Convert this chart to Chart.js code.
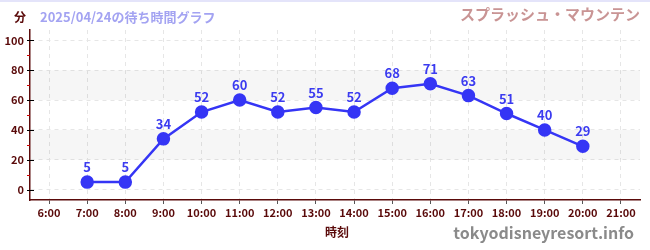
<!DOCTYPE html>
<html><head><meta charset="utf-8">
<script src="https://cdn.jsdelivr.net/npm/chart.js@4"></script>
<style>html,body{margin:0;padding:0;background:#fff}#wrap{width:650px;height:250px}</style>
</head><body><div id="wrap"><canvas id="c" width="650" height="250"></canvas></div>
<script>
const categories = ["6:00","7:00","8:00","9:00","10:00","11:00","12:00","13:00","14:00","15:00","16:00","17:00","18:00","19:00","20:00","21:00"];
const waitTimes = [null,5,5,34,52,60,52,55,52,68,71,63,51,40,29,null];
const yTickValues = [0,10,20,30,40,50,60,70,80,90,100];
const bands = [[20,40],[60,80]];
const titleDate = "2025/04/24の待ち時間グラフ";
const attraction = "スプラッシュ・マウンテン";
const yUnit = "分";
const xTitle = "時刻";
const site = "tokyodisneyresort.info";

const FONT = "'Noto Sans CJK JP','Noto Sans',sans-serif";
const DARK = "#5a0a0a";

const deco = {
  id:'deco',
  beforeDatasetsDraw(chart){
    const {ctx, chartArea:a, scales:{y}} = chart;
    ctx.save();
    ctx.fillStyle = 'rgba(0,0,0,0.035)';
    bands.forEach(([lo,hi])=>{
      const t=y.getPixelForValue(hi), b=y.getPixelForValue(lo);
      ctx.fillRect(a.left+1,t,a.right-a.left-1,b-t);
    });
    ctx.restore();
  },
  afterDraw(chart){
    const {ctx, chartArea:a, scales:{x,y}} = chart;
    ctx.save();
    ctx.fillStyle='#e4e4fa';
    ctx.fillRect(0,0,650,2);
    // y ticks
    yTickValues.forEach(v=>{
      const py=Math.round(y.getPixelForValue(v))+0.5;
      ctx.strokeStyle = v%20===0 ? '#000' : '#d00000';
      ctx.lineWidth=1;
      ctx.beginPath();
      if(v%20===0){ctx.moveTo(a.left-3,py);ctx.lineTo(a.left+4,py);}
      else {ctx.moveTo(a.left-3,py);ctx.lineTo(a.left,py);}
      ctx.stroke();
    });
    ctx.textBaseline='middle';
    ctx.font="bold 12px "+FONT;
    ctx.fillStyle=DARK;
    ctx.textAlign='center';
    ctx.fillText(yUnit,20,17);
    ctx.textAlign='left';
    ctx.fillStyle='#a3a3f2';
    ctx.font="bold 13px "+FONT;
    ctx.fillText(titleDate,40,17);
    ctx.textAlign='right';
    ctx.fillStyle='#c99494';
    ctx.font="bold 15px "+FONT;
    ctx.fillText(attraction,640,14);
    ctx.textAlign='center';
    ctx.fillStyle=DARK;
    ctx.font="bold 12px "+FONT;
    ctx.fillText(xTitle,(a.left+a.right)/2+2,232);
    ctx.textAlign='right';
    ctx.fillStyle='#8a8a8a';
    ctx.font="bold 16px "+FONT;
    ctx.fillText(site,634,233);
    // data labels
    const meta=chart.getDatasetMeta(0);
    ctx.fillStyle='#3b3bf0';
    ctx.font="bold 13px "+FONT;
    ctx.textAlign='center';
    ctx.textBaseline='alphabetic';
    meta.data.forEach((p,i)=>{
      const v=waitTimes[i];
      if(v==null) return;
      ctx.fillText(String(v),p.x,p.y-10);
    });
    ctx.restore();
  }
};

new Chart(document.getElementById('c'),{
  type:'line',
  data:{labels:categories,datasets:[{
    data:waitTimes,
    borderColor:'#3535f5',
    backgroundColor:'#3535f5',
    borderWidth:2.5,
    pointRadius:5.5,
    pointHoverRadius:5.5,
    tension:0,
    spanGaps:false
  }]},
  options:{
    responsive:false,animation:false,
    layout:{padding:{top:30,right:10,left:0,bottom:0}},
    plugins:{legend:{display:false},tooltip:{enabled:false}},
    scales:{
      x:{
        offset:true,
        grid:{color:'#e6e6e6',drawTicks:true,tickColor:'#555',tickLength:4,offset:false,tickBorderDash:[]},
        border:{color:DARK,width:1.5,dash:[4,4]},
        ticks:{color:DARK,font:{family:FONT,size:11,weight:'bold'},padding:2,maxRotation:0,autoSkip:false},
        afterFit(s){s.height=50;}
      },
      y:{
        min:-7,max:107,
        afterBuildTicks(s){s.ticks=yTickValues.map(v=>({value:v}));},
        grid:{color:(c)=> (c.tick && c.tick.value%20===0)?'#e6e6e6':'rgba(0,0,0,0)',drawTicks:false},
        border:{color:DARK,width:1.5,dash:[4,4]},
        ticks:{color:DARK,font:{family:FONT,size:11,weight:'bold'},padding:6,
          callback:(v)=> v%20===0? String(v):''},
        afterFit(s){s.width=30;}
      }
    }
  },
  plugins:[deco]
});
</script></body></html>
